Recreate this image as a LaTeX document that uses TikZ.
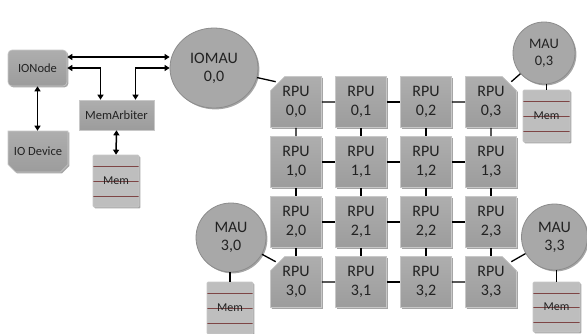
\documentclass[tikz,border=0pt]{standalone}
\usepackage{fontspec}
\setmainfont{Carlito}
\usetikzlibrary{shapes.misc,shapes.geometric,arrows.meta,shadows,calc}
\definecolor{boxtop}{HTML}{AEAEAE}
\definecolor{boxbot}{HTML}{9C9C9C}
\definecolor{boxedge}{HTML}{C8C8C8}
\definecolor{circfill}{HTML}{A8A8A8}
\definecolor{circedge}{HTML}{8C8C8C}
\definecolor{memfill}{HTML}{BEBEBE}
\definecolor{memln}{HTML}{7E4545}
\definecolor{txt}{HTML}{222222}
\begin{document}
\begin{tikzpicture}[x=1pt,y=-1pt,
  shd/.style={drop shadow={shadow xshift=1.4pt,shadow yshift=-1.4pt,opacity=0.35,fill=black}},
  boxbase/.style={shd,top color=boxtop,bottom color=boxbot,draw=boxedge,line width=0.6pt,
    inner sep=0pt,text=txt,align=center},
  rpu/.style={boxbase,shape=rectangle,minimum width=51pt,minimum height=51pt,
    font=\fontsize{16}{19}\selectfont},
  chamf/.style={shape=chamfered rectangle,chamfered rectangle corners=#1,
    chamfered rectangle xsep=11pt,chamfered rectangle angle=45},
  circ/.style={shd,ellipse,fill=circfill,draw=circedge,line width=0.8pt,inner sep=0pt,
    text=txt,align=center,font=\fontsize{16}{18}\selectfont},
  memst/.style={shd,rectangle,minimum width=46pt,minimum height=52pt,fill=memfill,
    draw=boxedge,line width=0.6pt,rounded corners=1pt,inner sep=0pt,text=txt,
    font=\fontsize{12}{14}\selectfont,
    path picture={\foreach \f in {0.22,0.51,0.8}
      \draw[draw=memln,line width=0.6pt]
        ($(path picture bounding box.north west)!\f!(path picture bounding box.south west)$) --
        ($(path picture bounding box.north east)!\f!(path picture bounding box.south east)$);}},
  smallbox/.style={boxbase,font=\fontsize{12.5}{14}\selectfont},
  conn/.style={draw=black,line width=1.3pt},
  dbl/.style={line width=1.5pt,{Triangle[length=5pt,width=6pt]}-{Triangle[length=5pt,width=6pt]}}]

\useasboundingbox[fill=white] (0,0) rectangle (587,333);

% left side
\node[smallbox,rectangle,rounded corners=4pt,minimum width=59pt,minimum height=36pt] (io) at (37.5,68) {IONode};
\node[smallbox,chamfered rectangle,chamfered rectangle corners={south west,south east},
  chamfered rectangle xsep=7pt,chamfered rectangle angle=45,minimum width=60pt,minimum height=41pt] (iod) at (38,151.5) {IO Device};
\node[smallbox,rectangle,minimum width=75pt,minimum height=30pt] (arb) at (116.5,115) {MemArbiter};
\node[memst] (mem0) at (116,181) {Mem};
\node[circ,minimum width=88pt,minimum height=80pt] (iomau) at (214,68) {IOMAU\\0,0};

% MAUs and memories
\node[circ,minimum width=62pt,minimum height=62pt,font=\fontsize{14.5}{17}\selectfont] (mau03) at (544,53) {MAU\\0,3};
\node[memst,minimum width=47pt] (mem03) at (546.5,116) {Mem};
\node[circ,minimum width=70pt,minimum height=69pt] (mau30) at (231,237.5) {MAU\\3,0};
\node[memst] (mem30) at (230,308) {Mem};
\node[circ,minimum width=66pt,minimum height=66pt] (mau33) at (554.5,237) {MAU\\3,3};
\node[memst,minimum width=47pt,minimum height=50pt] (mem33) at (556.5,307) {Mem};

% RPU grid
\node[rpu,chamf=north west] (r00) at (296,102) {RPU\\0,0};
\node[rpu] (r01) at (361,102) {RPU\\0,1};
\node[rpu] (r02) at (426,102) {RPU\\0,2};
\node[rpu,chamf=north east] (r03) at (491,102) {RPU\\0,3};
\node[rpu] (r10) at (296,162) {RPU\\1,0};
\node[rpu] (r11) at (361,162) {RPU\\1,1};
\node[rpu] (r12) at (426,162) {RPU\\1,2};
\node[rpu] (r13) at (491,162) {RPU\\1,3};
\node[rpu] (r20) at (296,222) {RPU\\2,0};
\node[rpu] (r21) at (361,222) {RPU\\2,1};
\node[rpu] (r22) at (426,222) {RPU\\2,2};
\node[rpu] (r23) at (491,222) {RPU\\2,3};
\node[rpu,chamf=north west] (r30) at (296,282) {RPU\\3,0};
\node[rpu] (r31) at (361,282) {RPU\\3,1};
\node[rpu] (r32) at (426,282) {RPU\\3,2};
\node[rpu,chamf=north east] (r33) at (491,282) {RPU\\3,3};

% grid links
\foreach \r in {0,1,2,3}{
  \draw[conn] (r\r0) -- (r\r1);
  \draw[conn] (r\r1) -- (r\r2);
  \draw[conn] (r\r2) -- (r\r3);
}
\foreach \c in {0,1,2,3}{
  \draw[conn] (r0\c) -- (r1\c);
  \draw[conn] (r1\c) -- (r2\c);
  \draw[conn] (r2\c) -- (r3\c);
}

% chamfer midpoints
\coordinate (c00) at ($(r00.west |- r00.north)+(5.5,5.5)$);
\coordinate (c03) at ($(r03.east |- r03.north)+(-5.5,5.5)$);
\coordinate (c30) at ($(r30.west |- r30.north)+(5.5,5.5)$);
\coordinate (c33) at ($(r33.east |- r33.north)+(-5.5,5.5)$);

% MAU links
\draw[conn] (iomau) -- (c00);
\draw[conn] (mau03) -- (c03);
\draw[conn] (mau30) -- (c30);
\draw[conn] (mau33) -- (c33);
\draw[conn] (mau03.south -| mem03.north) -- (mem03.north);
\draw[conn] (mau30.south -| mem30.north) -- (mem30.north);
\draw[conn] (mau33.south -| mem33.north) -- (mem33.north);

% IO arrows
\coordinate (ya) at (0,57);
\draw[dbl] (io.east |- ya) -- (iomau.west |- ya);
\draw[dbl] (io.east) -| ([xshift=-16pt]arb.north);
\draw[dbl] ([xshift=19pt]arb.north) |- (iomau.west);
\draw[dbl] (io.south) -- (io.south |- iod.north);
\draw[dbl] (arb.south) -- (mem0.north);
\end{tikzpicture}
\end{document}
